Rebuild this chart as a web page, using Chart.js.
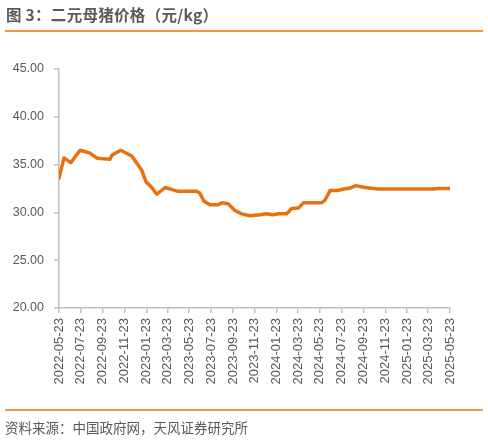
<!DOCTYPE html>
<html>
<head>
<meta charset="utf-8">
<script src="https://cdn.jsdelivr.net/npm/chart.js@4"></script>
<style>
  html, body { margin: 0; padding: 0; background: #fff; }
  #wrap { position: relative; width: 488px; height: 440px; overflow: hidden; }
  #title {
    position: absolute; left: 6px; top: 4px;
    font: bold 15.5px "Noto Sans CJK SC", sans-serif; color: #595959;
    line-height: 20px; white-space: nowrap; letter-spacing: 0.3px;
  }
  .rule { position: absolute; left: 5px; width: 478px; height: 2px; background: #F79646; }
  #source {
    position: absolute; left: 5px; top: 417px;
    font: 13.5px "Noto Sans CJK SC", sans-serif; color: #595959;
    line-height: 20px; white-space: nowrap;
  }
  #chart { position: absolute; left: 0; top: 0; }
</style>
</head>
<body>
<div id="wrap">
  <canvas id="chart" width="488" height="440"></canvas>
  <div id="title">图 3：二元母猪价格（元/kg）</div>
  <div class="rule" style="top:30px"></div>
  <div class="rule" style="top:409px"></div>
  <div id="source">资料来源：中国政府网，天风证券研究所</div>
</div>
<script>
// values
const dates = [
  "2022-05-23", "2022-06-06", "2022-06-25", "2022-07-21", "2022-08-18", "2022-09-05",
  "2022-09-24", "2022-10-13", "2022-10-19", "2022-11-12", "2022-12-13", "2023-01-10",
  "2023-01-22", "2023-02-07", "2023-02-21", "2023-03-16", "2023-04-08", "2023-04-22",
  "2023-06-13", "2023-06-22", "2023-07-03", "2023-07-20", "2023-08-12", "2023-08-22",
  "2023-09-09", "2023-09-28", "2023-10-17", "2023-11-09", "2023-12-07", "2023-12-26",
  "2024-01-13", "2024-01-28", "2024-02-20", "2024-03-05", "2024-03-24", "2024-04-07",
  "2024-05-28", "2024-06-06", "2024-06-21", "2024-07-14", "2024-07-23", "2024-08-16",
  "2024-09-01", "2024-09-27", "2024-10-20", "2024-11-03", "2025-04-06", "2025-04-20",
  "2025-05-23"
];
const prices = [
  33.6, 35.7, 35.2, 36.5, 36.2, 35.7,
  35.6, 35.55, 36.0, 36.5, 35.9, 34.4,
  33.2, 32.6, 31.9, 32.6, 32.35, 32.2,
  32.2, 32.0, 31.2, 30.8, 30.8, 31.0,
  30.9, 30.2, 29.85, 29.65, 29.75, 29.85,
  29.75, 29.85, 29.85, 30.4, 30.45, 31.0,
  31.0, 31.25, 32.3, 32.3, 32.4, 32.55,
  32.8, 32.6, 32.5, 32.45, 32.45, 32.5,
  32.5
];
const tickLabels = [
  "2022-05-23", "2022-07-23", "2022-09-23", "2022-11-23", "2023-01-23", "2023-03-23",
  "2023-05-23", "2023-07-23", "2023-09-23", "2023-11-23", "2024-01-23", "2024-03-23",
  "2024-05-23", "2024-07-23", "2024-09-23", "2024-11-23", "2025-01-23", "2025-03-23",
  "2025-05-23"
];

const dayMs = 24 * 3600 * 1000;
const start = Date.parse(tickLabels[0] + "T00:00:00Z");
const toDay = (s) => Math.round((Date.parse(s + "T00:00:00Z") - start) / dayMs);
const tickDays = tickLabels.map(toDay);

const axisColor = "#BFBFBF";
const textColor = "#595959";

document.addEventListener("DOMContentLoaded", function () {
  const points = dates.map((d, i) => ({ x: toDay(d), y: prices[i] }));

  new Chart(document.getElementById("chart"), {
    type: "line",
    data: {
      datasets: [
        {
          data: points,
          borderColor: "#E8700F",
          borderWidth: 3.5,
          pointRadius: 0,
          tension: 0,
          borderJoinStyle: "round",
          borderCapStyle: "round",
        },
      ],
    },
    options: {
      responsive: false,
      animation: false,
      events: [],
      layout: { padding: { left: 0, top: 69, right: 38, bottom: 52 } },
      plugins: { legend: { display: false }, tooltip: { enabled: false } },
      scales: {
        x: {
          type: "linear",
          min: 0,
          max: tickDays[tickDays.length - 1],
          afterBuildTicks: (scale) => {
            scale.ticks = tickDays.map((v) => ({ value: v }));
          },
          afterFit: (scale) => { scale.height = 80; },
          border: { color: axisColor, width: 1.5 },
          grid: { drawOnChartArea: false, drawTicks: true, tickLength: 5, color: axisColor, lineWidth: 1.5 },
          ticks: {
            autoSkip: false,
            maxRotation: 90,
            minRotation: 90,
            padding: 5,
            color: textColor,
            font: { family: "Liberation Sans", size: 13 },
            callback: (value, index) => tickLabels[index],
          },
        },
        y: {
          min: 20,
          max: 45,
          afterFit: (scale) => { scale.width = 59; },
          border: { color: axisColor, width: 1.5 },
          grid: { drawOnChartArea: false, drawTicks: true, tickLength: 5, color: axisColor, lineWidth: 1.5 },
          ticks: {
            stepSize: 5,
            padding: 10,
            color: textColor,
            font: { family: "Liberation Sans", size: 12.5 },
            callback: (value) => value.toFixed(2),
          },
        },
      },
    },
  });
});
</script>
</body>
</html>
